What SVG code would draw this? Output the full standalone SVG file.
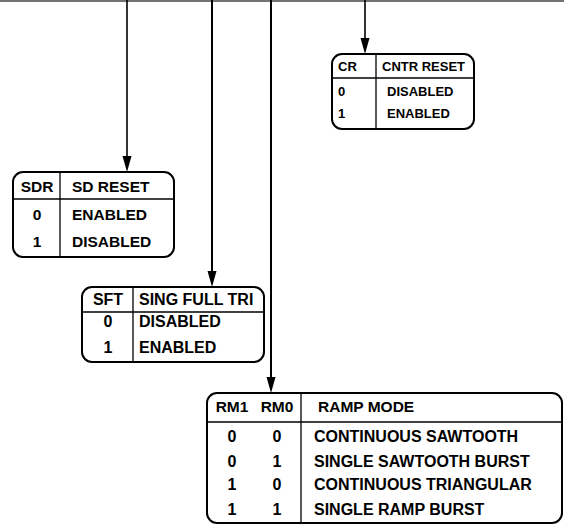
<svg xmlns="http://www.w3.org/2000/svg" width="564" height="529" viewBox="0 0 564 529">
<style>
.box{fill:#fff;stroke:#000;stroke-width:2}
.div{stroke:#000;stroke-width:1.3;fill:none}
.con{stroke:#000;fill:none}
text{font-family:"Liberation Sans",Arial,sans-serif;font-weight:bold;fill:#000}
.t16{font-size:16px}
.t15{font-size:15.5px}
.t13{font-size:13px}
.c{text-anchor:middle}
</style>
<g id="connectors">
<line x1="0" y1="1" x2="564" y2="1" stroke="#444" stroke-width="1.5"/>
<line class="con" x1="127" y1="0" x2="127" y2="156" stroke-width="1.6"/>
<path d="M122.5,156 L131.5,156 L127,172 Z" fill="#000"/>
<line class="con" x1="212" y1="0" x2="212" y2="271" stroke-width="2"/>
<path d="M207.5,271 L216.5,271 L212,287 Z" fill="#000"/>
<line class="con" x1="271" y1="0" x2="271" y2="377" stroke-width="2"/>
<path d="M266.5,377 L275.5,377 L271,393 Z" fill="#000"/>
<line class="con" x1="365" y1="0" x2="365" y2="38" stroke-width="1.6"/>
<path d="M360.5,38 L369.5,38 L365,54 Z" fill="#000"/>
</g>
<g id="cr">
<rect class="box" x="332" y="54" width="142" height="75" rx="10"/>
<line class="div" x1="376" y1="54" x2="376" y2="129"/>
<line class="div" x1="332" y1="78" x2="474" y2="78"/>
<text class="t13" x="338" y="71">CR</text>
<text class="t13" x="382" y="71">CNTR RESET</text>
<text class="t13" x="338" y="96">0</text>
<text class="t13" x="387" y="96">DISABLED</text>
<text class="t13" x="338" y="118">1</text>
<text class="t13" x="387" y="118">ENABLED</text>
</g>
<g id="sdr">
<rect class="box" x="13" y="172" width="161" height="85" rx="10"/>
<line class="div" x1="60" y1="172" x2="60" y2="257"/>
<line class="div" x1="13" y1="199" x2="174" y2="199"/>
<text class="t15 c" x="37" y="192">SDR</text>
<text class="t15" x="72" y="192">SD RESET</text>
<text class="t15 c" x="37" y="220">0</text>
<text class="t15" x="72" y="220">ENABLED</text>
<text class="t15 c" x="37" y="247">1</text>
<text class="t15" x="72" y="247">DISABLED</text>
</g>
<g id="sft">
<rect class="box" x="82" y="287" width="182" height="75" rx="10"/>
<line class="div" x1="133" y1="287" x2="133" y2="362"/>
<line class="div" x1="82" y1="312" x2="264" y2="312"/>
<text class="t16 c" x="108" y="305">SFT</text>
<text class="t16" x="139" y="305">SING FULL TRI</text>
<text class="t16 c" x="108" y="327">0</text>
<text class="t16" x="139" y="327">DISABLED</text>
<text class="t16 c" x="108" y="353">1</text>
<text class="t16" x="139" y="353">ENABLED</text>
</g>
<g id="ramp">
<rect class="box" x="207" y="393" width="355" height="130" rx="10"/>
<line class="div" x1="301" y1="393" x2="301" y2="523"/>
<line class="div" x1="207" y1="422" x2="562" y2="422"/>
<text class="t15 c" x="232" y="412">RM1</text>
<text class="t15 c" x="277" y="412">RM0</text>
<text class="t15" x="318" y="412">RAMP MODE</text>
<text class="t16 c" x="232" y="442">0</text>
<text class="t16 c" x="277" y="442">0</text>
<text class="t16" x="314" y="442">CONTINUOUS SAWTOOTH</text>
<text class="t16 c" x="232" y="467">0</text>
<text class="t16 c" x="277" y="467">1</text>
<text class="t16" x="314" y="467">SINGLE SAWTOOTH BURST</text>
<text class="t16 c" x="232" y="490">1</text>
<text class="t16 c" x="277" y="490">0</text>
<text class="t16" x="314" y="490">CONTINUOUS TRIANGULAR</text>
<text class="t16 c" x="232" y="515">1</text>
<text class="t16 c" x="277" y="515">1</text>
<text class="t16" x="314" y="515">SINGLE RAMP BURST</text>
</g>
</svg>
